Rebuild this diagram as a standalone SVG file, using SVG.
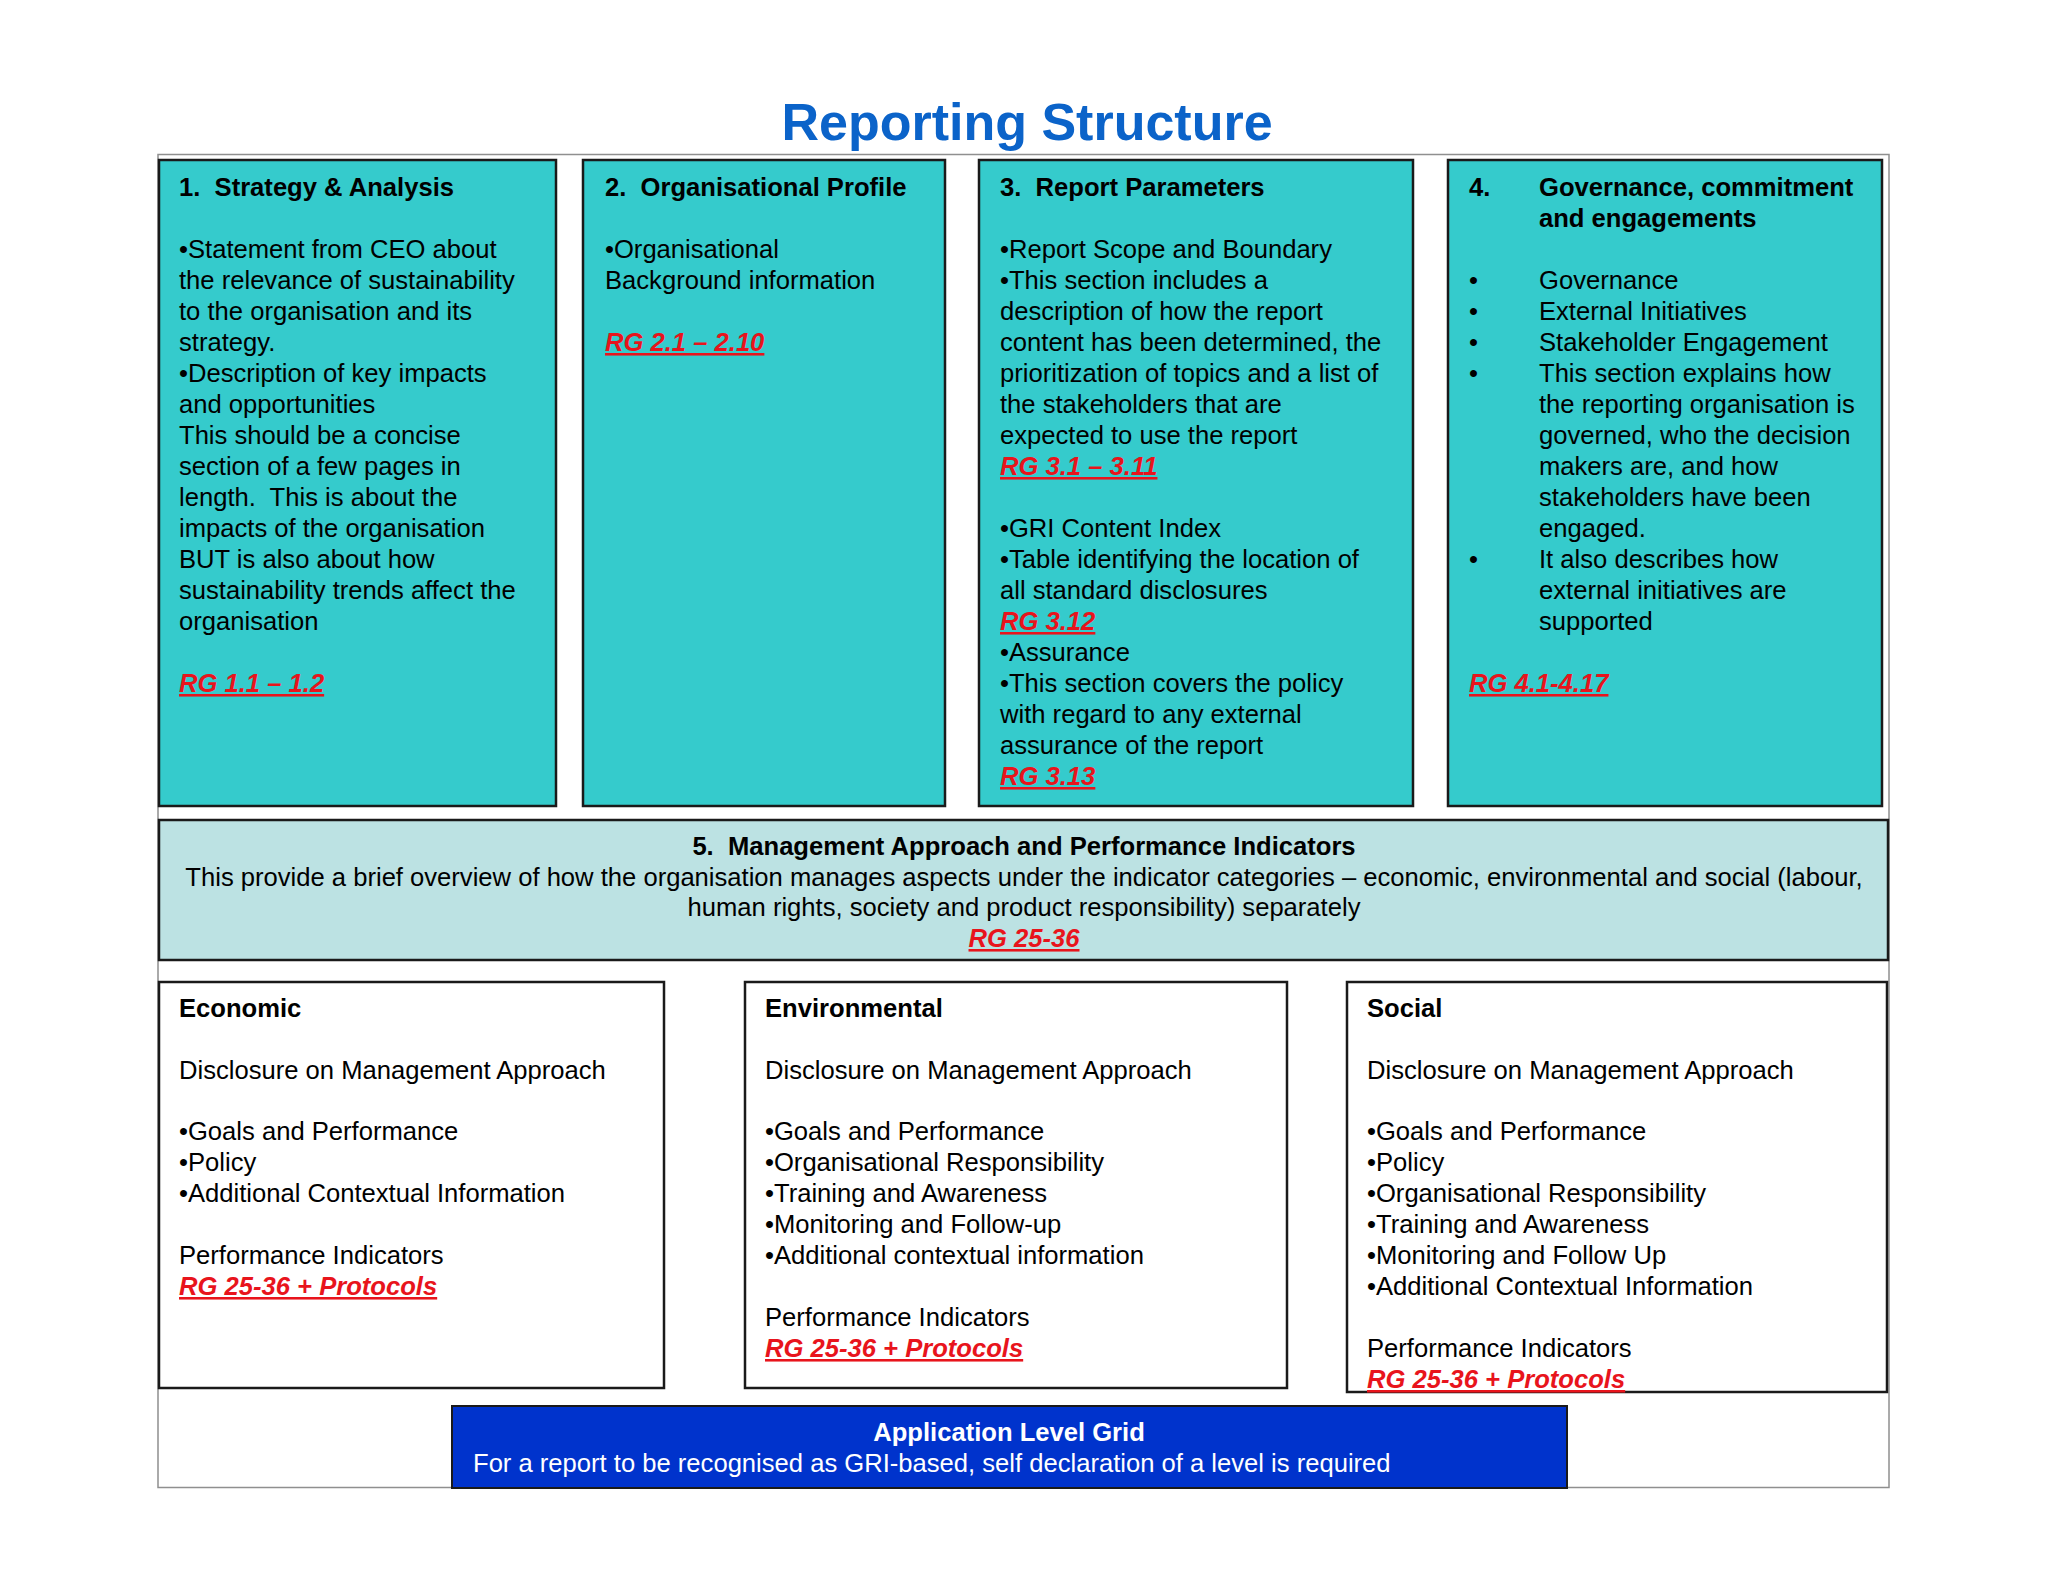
<svg xmlns="http://www.w3.org/2000/svg" width="2048" height="1582" viewBox="0 0 2048 1582">
<style>
text{font-family:"Liberation Sans",Arial,Helvetica,sans-serif;font-size:25.6px;fill:#000;white-space:pre}
.b{font-weight:bold}
.rg{fill:#E8141C;font-weight:bold;font-style:italic;text-decoration:underline}
.teal{fill:#35CBCC;stroke:#1a1a1a;stroke-width:2.5}
.pale{fill:#BCE2E3;stroke:#1a1a1a;stroke-width:2.5}
.white{fill:#FFFFFF;stroke:#1a1a1a;stroke-width:2.5}
.title{font-size:52px;font-weight:bold;fill:#0B63C9}
.w{fill:#FFFFFF}
</style>
<rect x="0" y="0" width="2048" height="1582" fill="#FFFFFF"/>
<text class="title" x="1027" y="140" text-anchor="middle">Reporting Structure</text>
<rect id="frame" x="158" y="154.5" width="1731" height="1333" fill="none" stroke="#8f8f8f" stroke-width="1.5"/>

<g id="box1">
<rect class="teal" x="159" y="160" width="397" height="646"/>
<text x="179"><tspan class="b" y="196">1.  Strategy &amp; Analysis</tspan><tspan x="179" y="258">•Statement from CEO about</tspan><tspan x="179" y="289">the relevance of sustainability</tspan><tspan x="179" y="320">to the organisation and its</tspan><tspan x="179" y="351">strategy.</tspan><tspan x="179" y="382">•Description of key impacts</tspan><tspan x="179" y="413">and opportunities</tspan><tspan x="179" y="444">This should be a concise</tspan><tspan x="179" y="475">section of a few pages in</tspan><tspan x="179" y="506">length.  This is about the</tspan><tspan x="179" y="537">impacts of the organisation</tspan><tspan x="179" y="568">BUT is also about how</tspan><tspan x="179" y="599">sustainability trends affect the</tspan><tspan x="179" y="630">organisation</tspan></text>
<text class="rg" x="179" y="692">RG 1.1 – 1.2</text>
</g>

<g id="box2">
<rect class="teal" x="583" y="160" width="362" height="646"/>
<text x="605"><tspan class="b" y="196">2.  Organisational Profile</tspan><tspan x="605" y="258">•Organisational</tspan><tspan x="605" y="289">Background information</tspan></text>
<text class="rg" x="605" y="351">RG 2.1 – 2.10</text>
</g>

<g id="box3">
<rect class="teal" x="979" y="160" width="434" height="646"/>
<text x="1000"><tspan class="b" y="196">3.  Report Parameters</tspan><tspan x="1000" y="258">•Report Scope and Boundary</tspan><tspan x="1000" y="289">•This section includes a</tspan><tspan x="1000" y="320">description of how the report</tspan><tspan x="1000" y="351">content has been determined, the</tspan><tspan x="1000" y="382">prioritization of topics and a list of</tspan><tspan x="1000" y="413">the stakeholders that are</tspan><tspan x="1000" y="444">expected to use the report</tspan><tspan x="1000" y="537">•GRI Content Index</tspan><tspan x="1000" y="568">•Table identifying the location of</tspan><tspan x="1000" y="599">all standard disclosures</tspan><tspan x="1000" y="661">•Assurance</tspan><tspan x="1000" y="692">•This section covers the policy</tspan><tspan x="1000" y="723">with regard to any external</tspan><tspan x="1000" y="754">assurance of the report</tspan></text>
<text class="rg" x="1000" y="475">RG 3.1 – 3.11</text>
<text class="rg" x="1000" y="630">RG 3.12</text>
<text class="rg" x="1000" y="785">RG 3.13</text>
</g>

<g id="box4">
<rect class="teal" x="1448" y="160" width="434" height="646"/>
<text class="b" x="1469" y="196">4.</text>
<text class="b" x="1539"><tspan y="196">Governance, commitment</tspan><tspan x="1539" y="227">and engagements</tspan></text>
<text x="1469"><tspan y="289">•</tspan><tspan x="1469" y="320">•</tspan><tspan x="1469" y="351">•</tspan><tspan x="1469" y="382">•</tspan><tspan x="1469" y="568">•</tspan></text>
<text x="1539"><tspan y="289">Governance</tspan><tspan x="1539" y="320">External Initiatives</tspan><tspan x="1539" y="351">Stakeholder Engagement</tspan><tspan x="1539" y="382">This section explains how</tspan><tspan x="1539" y="413">the reporting organisation is</tspan><tspan x="1539" y="444">governed, who the decision</tspan><tspan x="1539" y="475">makers are, and how</tspan><tspan x="1539" y="506">stakeholders have been</tspan><tspan x="1539" y="537">engaged.</tspan><tspan x="1539" y="568">It also describes how</tspan><tspan x="1539" y="599">external initiatives are</tspan><tspan x="1539" y="630">supported</tspan></text>
<text class="rg" x="1469" y="692">RG 4.1-4.17</text>
</g>

<g id="box5">
<rect class="pale" x="159" y="820" width="1729" height="140"/>
<text text-anchor="middle" x="1024"><tspan class="b" y="855">5.  Management Approach and Performance Indicators</tspan><tspan x="1024" y="886">This provide a brief overview of how the organisation manages aspects under the indicator categories – economic, environmental and social (labour,</tspan><tspan x="1024" y="916">human rights, society and product responsibility) separately</tspan></text>
<text class="rg" x="1024" y="947" text-anchor="middle">RG 25-36</text>
</g>

<g id="economic">
<rect class="white" x="159" y="982" width="505" height="406"/>
<text x="179"><tspan class="b" y="1017">Economic</tspan><tspan x="179" y="1079">Disclosure on Management Approach</tspan><tspan x="179" y="1140">•Goals and Performance</tspan><tspan x="179" y="1171">•Policy</tspan><tspan x="179" y="1202">•Additional Contextual Information</tspan><tspan x="179" y="1264">Performance Indicators</tspan></text>
<text class="rg" x="179" y="1295">RG 25-36 + Protocols</text>
</g>

<g id="environmental">
<rect class="white" x="745" y="982" width="542" height="406"/>
<text x="765"><tspan class="b" y="1017">Environmental</tspan><tspan x="765" y="1079">Disclosure on Management Approach</tspan><tspan x="765" y="1140">•Goals and Performance</tspan><tspan x="765" y="1171">•Organisational Responsibility</tspan><tspan x="765" y="1202">•Training and Awareness</tspan><tspan x="765" y="1233">•Monitoring and Follow-up</tspan><tspan x="765" y="1264">•Additional contextual information</tspan><tspan x="765" y="1326">Performance Indicators</tspan></text>
<text class="rg" x="765" y="1357">RG 25-36 + Protocols</text>
</g>

<g id="social">
<rect class="white" x="1347" y="982" width="540" height="410"/>
<text x="1367"><tspan class="b" y="1017">Social</tspan><tspan x="1367" y="1079">Disclosure on Management Approach</tspan><tspan x="1367" y="1140">•Goals and Performance</tspan><tspan x="1367" y="1171">•Policy</tspan><tspan x="1367" y="1202">•Organisational Responsibility</tspan><tspan x="1367" y="1233">•Training and Awareness</tspan><tspan x="1367" y="1264">•Monitoring and Follow Up</tspan><tspan x="1367" y="1295">•Additional Contextual Information</tspan><tspan x="1367" y="1357">Performance Indicators</tspan></text>
<text class="rg" x="1367" y="1388">RG 25-36 + Protocols</text>
</g>

<g id="application">
<rect x="452" y="1406" width="1115" height="82" fill="#0033CC" stroke="#1a1a1a" stroke-width="2"/>
<text class="b w" x="1009" y="1441" text-anchor="middle">Application Level Grid</text>
<text class="w" x="473" y="1472">For a report to be recognised as GRI-based, self declaration of a level is required</text>
</g>

<g id="connectors"></g>
</svg>
